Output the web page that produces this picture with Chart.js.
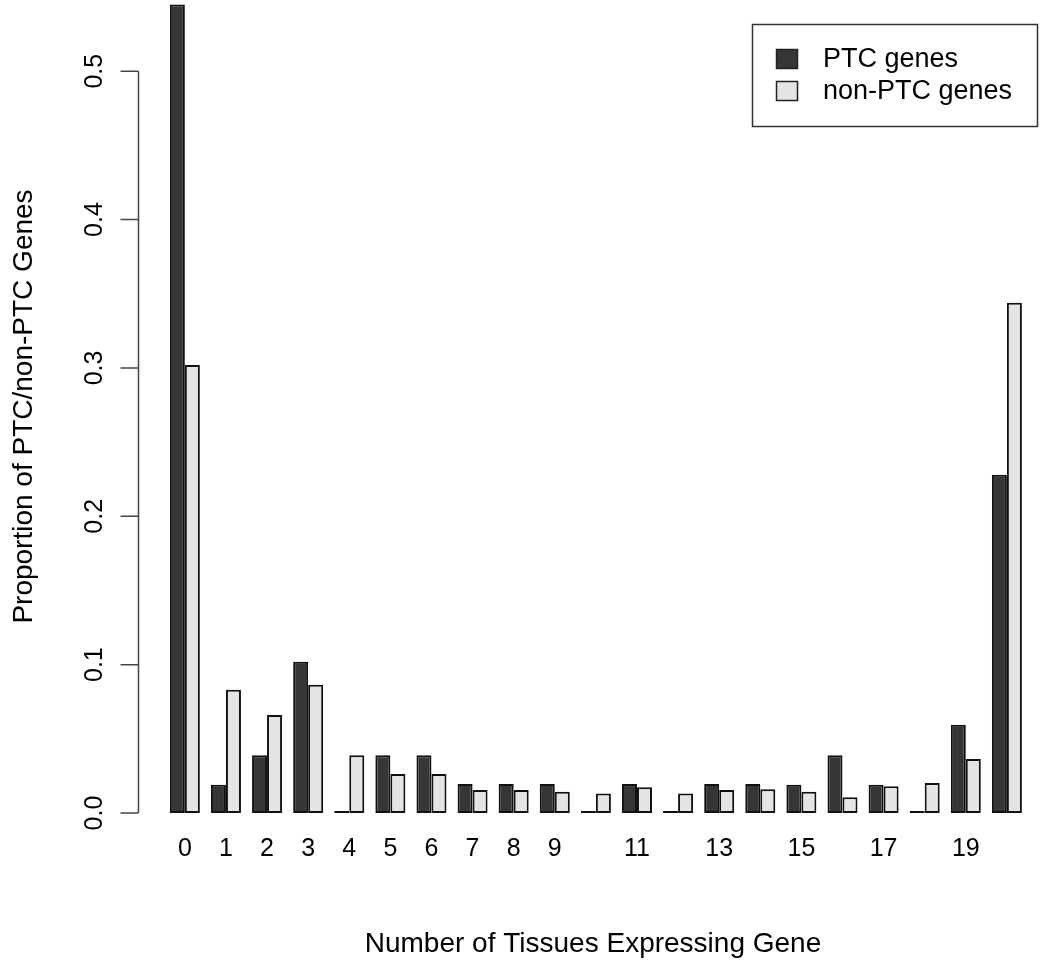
<!DOCTYPE html>
<html>
<head>
<meta charset="utf-8">
<script src="https://cdn.jsdelivr.net/npm/chart.js@4"></script>
<style>
  body { margin: 0; background: #fff; }
  #wrap { width: 1050px; height: 975px; position: relative; }
</style>
</head>
<body>
<div id="wrap"><canvas id="graf"></canvas></div>
<script>
// number of tissues (0..20)
const tissues = [0, 1, 2, 3, 4, 5, 6, 7, 8, 9, 10, 11, 12, 13, 14, 15, 16, 17, 18, 19, 20];
const ptcGenes = [0.545, 0.019, 0.039, 0.102, 0, 0.039, 0.039, 0.0195, 0.0195, 0.0195, 0,
  0.0195, 0, 0.0195, 0.0195, 0.019, 0.039, 0.019, 0, 0.0595, 0.228];
const nonPtcGenes = [0.302, 0.083, 0.066, 0.0865, 0.039, 0.0263, 0.0263, 0.0155, 0.0155, 0.0143, 0.0131,
  0.0173, 0.0131, 0.0155, 0.016, 0.0144, 0.0106, 0.018, 0.0202, 0.0364, 0.344];
const xTickValues = [0, 1, 2, 3, 4, 5, 6, 7, 8, 9, 11, 13, 15, 17, 19];
const yTickValues = [0, 0.1, 0.2, 0.3, 0.4, 0.5];
const yTickLabels = ['0.0', '0.1', '0.2', '0.3', '0.4', '0.5'];

const FONT = "'Liberation Sans', Arial, sans-serif";
Chart.defaults.font.family = FONT;
Chart.defaults.color = '#000';

// R-style y axis: line only from 0 to 0.5, rotated labels
const rAxis = {
  id: 'rAxis',
  afterDraw(chart) {
    const ctx = chart.ctx;
    const y = chart.scales.y;
    const x0 = chart.chartArea.left + 0.5;
    ctx.save();
    ctx.strokeStyle = '#444';
    ctx.lineWidth = 1.5;
    ctx.beginPath();
    ctx.moveTo(x0, y.getPixelForValue(yTickValues[0]));
    ctx.lineTo(x0, y.getPixelForValue(yTickValues[yTickValues.length - 1]));
    yTickValues.forEach(v => {
      const py = y.getPixelForValue(v);
      ctx.moveTo(x0, py);
      ctx.lineTo(x0 - 18, py);
    });
    ctx.stroke();
    ctx.fillStyle = '#000';
    ctx.font = '25px ' + FONT;
    ctx.textAlign = 'center';
    ctx.textBaseline = 'middle';
    yTickValues.forEach((v, i) => {
      ctx.save();
      ctx.translate(95, y.getPixelForValue(v));
      ctx.rotate(-Math.PI / 2);
      ctx.fillText(yTickLabels[i], 0, 0);
      ctx.restore();
    });
    ctx.restore();
  }
};

// boxed legend like R's legend()
const boxLegend = {
  id: 'boxLegend',
  afterDraw(chart) {
    const ctx = chart.ctx;
    ctx.save();
    ctx.strokeStyle = '#333';
    ctx.lineWidth = 1.5;
    ctx.strokeRect(752.5, 24.5, 285, 102);
    ctx.font = '27px ' + FONT;
    ctx.textBaseline = 'middle';
    chart.data.datasets.forEach((ds, i) => {
      const cy = 59 + i * 32;
      ctx.fillStyle = ds.backgroundColor;
      ctx.fillRect(776, cy - 10, 22, 20);
      ctx.lineWidth = 1.5;
      ctx.strokeStyle = '#222';
      ctx.strokeRect(776.5, cy - 9.5, 21, 19);
      ctx.fillStyle = '#000';
      ctx.fillText(ds.label, 823, cy + 1);
    });
    ctx.restore();
  }
};

new Chart(document.getElementById('graf').getContext('2d'), {
  type: 'bar',
  data: {
    labels: tissues,
    datasets: [{
      label: 'PTC genes',
      data: tissues.map((t, i) => ({ x: t, y: ptcGenes[i] })),
      backgroundColor: '#363636',
      borderColor: '#111',
      borderWidth: 2,
      borderSkipped: false,
      minBarLength: 2
    }, {
      label: 'non-PTC genes',
      data: tissues.map((t, i) => ({ x: t, y: nonPtcGenes[i] })),
      backgroundColor: '#e4e4e4',
      borderColor: '#111',
      borderWidth: 2,
      borderSkipped: false
    }]
  },
  options: {
    responsive: true,
    maintainAspectRatio: false,
    animation: false,
    categoryPercentage: 0.73,
    barPercentage: 1.0,
    layout: { padding: { top: 0, right: 2, left: 0, bottom: 0 } },
    plugins: {
      legend: { display: false },
      tooltip: { enabled: false }
    },
    scales: {
      x: {
        type: 'linear',
        min: -1.14,
        max: 21.0,
        offset: false,
        grid: { display: false, drawTicks: false, tickLength: 0 },
        border: { display: false },
        afterBuildTicks: axis => { axis.ticks = xTickValues.map(v => ({ value: v })); },
        afterFit: axis => { axis.height = 162; },
        ticks: {
          autoSkip: false,
          maxRotation: 0,
          padding: 21,
          font: { size: 25 },
          color: '#000',
          callback: v => String(v)
        },
        title: {
          display: true,
          text: 'Number of Tissues Expressing Gene',
          font: { size: 28 },
          color: '#000',
          padding: { top: 0, bottom: 14 }
        }
      },
      y: {
        min: 0,
        max: 0.548,
        grid: { display: false },
        border: { display: false },
        ticks: { display: false },
        afterFit: axis => { axis.width = 138; },
        title: {
          display: true,
          text: 'Proportion of PTC/non-PTC Genes',
          font: { size: 28 },
          color: '#000',
          padding: { top: 7, bottom: 0 }
        }
      }
    }
  },
  plugins: [rAxis, boxLegend]
});
</script>
</body>
</html>
